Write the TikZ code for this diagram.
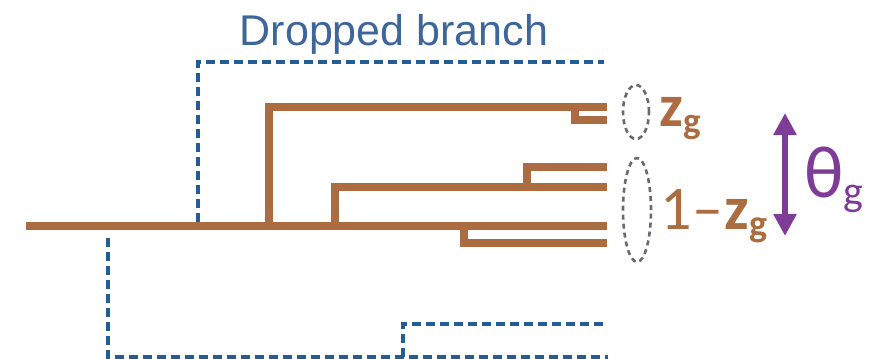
\documentclass[tikz,border=0pt]{standalone}
\usepackage{fontspec}
\setmainfont{Liberation Sans}
\newfontfamily\calfont{Carlito}
\usetikzlibrary{arrows.meta}
\definecolor{brn}{HTML}{AA6C40}
\definecolor{dblue}{HTML}{245C96}
\definecolor{tblue}{HTML}{3F6699}
\definecolor{purp}{HTML}{7E3C96}
\definecolor{egray}{HTML}{6A6A6A}
\tikzset{
  tree/.style={draw=brn, line width=8.5pt, line join=miter, line cap=butt},
  drop/.style={draw=dblue, line width=3.4pt, dash pattern=on 9pt off 5pt},
  grp/.style={draw=egray, line width=2.6pt, dash pattern=on 5pt off 4pt},
}
\begin{document}
\begin{tikzpicture}[x=1pt,y=-1pt]
\useasboundingbox (0,0) rectangle (879,359);
% brown tree coordinates
\coordinate (root) at (26,226);
\coordinate (rend) at (607,226);
\coordinate (a0) at (269,226);
\coordinate (a1) at (269,107);
\coordinate (a2) at (607,107);
\coordinate (a3) at (575,107);
\coordinate (a4) at (575,120);
\coordinate (a5) at (607,120);
\coordinate (b0) at (335,226);
\coordinate (b1) at (335,187);
\coordinate (b2) at (607,187);
\coordinate (b3) at (527,187);
\coordinate (b4) at (527,167);
\coordinate (b5) at (607,167);
\coordinate (c0) at (464,226);
\coordinate (c1) at (464,243);
\coordinate (c2) at (607,243);
% dropped branches
\coordinate (d0) at (198,222);
\coordinate (d1) at (198,62);
\coordinate (d2) at (604,62);
\coordinate (e0) at (108,238);
\coordinate (e1) at (108,357);
\coordinate (e2) at (608,357);
\coordinate (f0) at (403,357);
\coordinate (f1) at (403,324);
\coordinate (f2) at (603,324);

\draw[drop] (d0) -- (d1) -- (d2);
\draw[drop] (e0) -- (e1) -- (e2);
\draw[drop] (f0) -- (f1) -- (f2);

\draw[tree] (root) -- (rend);
\draw[tree] (a0) -- (a1) -- (a2);
\draw[tree] (a3) -- (a4) -- (a5);
\draw[tree] (b0) -- (b1) -- (b2);
\draw[tree] (b3) -- (b4) -- (b5);
\draw[tree] (c0) -- (c1) -- (c2);

\node[anchor=base, text=tblue, font=\fontsize{43}{43}\selectfont, inner sep=0pt] (title) at (394,45) {Dropped branch};

\draw[grp] (636,112) ellipse [x radius=13pt, y radius=27pt];
\draw[grp] (637,210) ellipse [x radius=14pt, y radius=52pt];

\node[anchor=base west, text=brn, inner sep=0pt] (zg) at (659,126)
  {\calfont\bfseries\fontsize{60}{60}\selectfont z\raisebox{-0.12em}{\fontsize{37}{37}\selectfont g}};
\node[anchor=base west, text=brn, inner sep=0pt] (omz) at (660,229)
  {\calfont\fontsize{62}{62}\selectfont 1\kern1pt–\kern1pt{\bfseries z\raisebox{-0.12em}{\fontsize{38}{38}\selectfont g}}};

\coordinate (pt) at (785,113);
\coordinate (pb) at (785,236);
\draw[draw=purp, fill=purp, line width=6pt, {Triangle[width=22pt,length=22pt]}-{Triangle[width=22pt,length=22pt]}] (pt) -- (pb);
\node[anchor=base west, text=purp, inner sep=0pt] (theta) at (804,197)
  {\calfont\fontsize{74}{74}\selectfont θ\raisebox{-0.12em}{\fontsize{42}{42}\selectfont g}};
\end{tikzpicture}
\end{document}
